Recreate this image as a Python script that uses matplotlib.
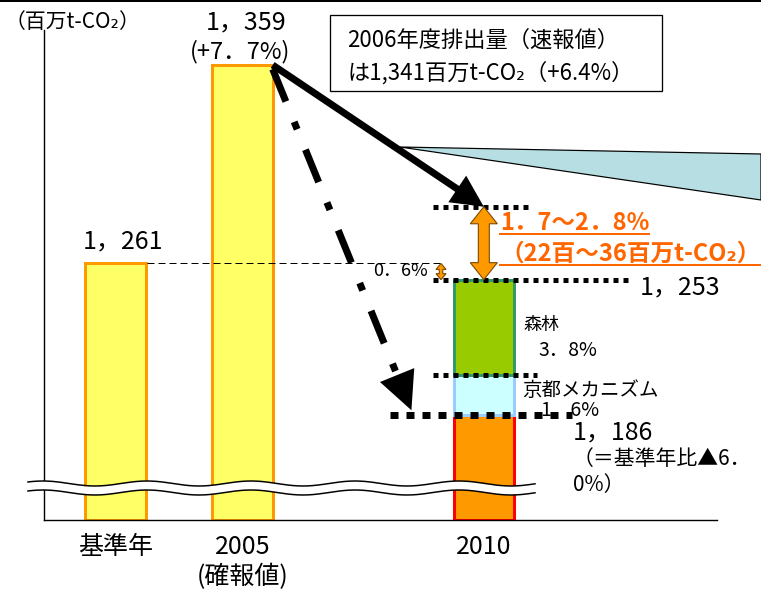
import numpy as np
import matplotlib.pyplot as plt
import matplotlib.transforms as mtransforms
from matplotlib.patches import Polygon, Rectangle
from matplotlib.lines import Line2D

plt.rcParams['font.family'] = ['Noto Sans CJK JP', 'DejaVu Sans']
plt.rcParams['lines.scale_dashes'] = False

# data (百万t-CO2)
categories = ['基準年', '2005\n(確報値)', '2010']
x_pos = [0, 1, 2.9]
emissions = [1261, 1359]          # 基準年, 2005 確報値
target_2010 = 1186                # 基準年比 -6.0%
kyoto_mech = 20                   # 京都メカニズム 1.6%
forest_sink = 47                  # 森林 3.8%
level_2010 = target_2010 + kyoto_mech + forest_sink   # 1,253
gap_upper = 36                    # 2.8% (22~36百万t)

W, H = 761, 590
PT = 0.72   # points per pixel at dpi 100


def fx(x):
    return x / W


def fy(y):
    return 1 - y / H


def jp_num(v):
    return f'{v:,}'.replace(',', '，')


fig = plt.figure(figsize=(W / 100, H / 100), dpi=100)
fig.set_facecolor('white')
ax = fig.add_axes([fx(44), fy(520), fx(717) - fx(44), fy(30) - fy(520)])
ax.set_xlim(-0.563, 4.736)
ax.set_ylim(1134.3, 1376.3)
ax.set_autoscale_on(False)
floor = ax.get_ylim()[0]
bw = 0.475

# bars
ax.bar(x_pos[:2], np.array(emissions) - floor, bottom=floor, width=bw,
       color='#ffff66', edgecolor='#ff9900', linewidth=3 * PT, zorder=2)
ax.bar(x_pos[2], target_2010 - floor, bottom=floor, width=bw,
       color='#ff9900', edgecolor='#ff0000', linewidth=3 * PT, zorder=2)
ax.bar(x_pos[2], kyoto_mech, bottom=target_2010, width=bw,
       color='#ccffff', edgecolor='#99ccff', linewidth=3 * PT, zorder=2)
ax.bar(x_pos[2], forest_sink, bottom=target_2010 + kyoto_mech, width=bw,
       color='#99cc00', edgecolor='#339966', linewidth=3 * PT, zorder=2)

for s in ['top', 'right']:
    ax.spines[s].set_visible(False)
for s in ['left', 'bottom']:
    ax.spines[s].set_linewidth(1.4 * PT)
ax.set_yticks([])
ax.set_xticks(x_pos, categories, fontsize=18)
ax.tick_params(axis='x', length=0, pad=10)

blend = mtransforms.blended_transform_factory(fig.transFigure, ax.transData)
inv = ax.transData.inverted()

# light blue wedge
ax.add_patch(Polygon([(fx(400), fy(147)), (fx(761), fy(154)), (fx(761), fy(200))],
                     closed=True, transform=fig.transFigure, facecolor='#b7dfe3',
                     edgecolor='black', linewidth=1.2 * PT, clip_on=False, zorder=3))

# break marks
xs = np.linspace(28, 535, 300)
upper = 483.5 - 2.5 * np.cos(2 * np.pi * (xs - 147) / 104)
lower = upper + 9
band = np.vstack([np.column_stack([fx(xs), fy(upper)]),
                  np.column_stack([fx(xs[::-1]), fy(lower[::-1])])])
ax.add_patch(Polygon(band, closed=True, transform=fig.transFigure,
                     facecolor='white', linewidth=0, clip_on=False, zorder=5))
for yy in (upper, lower):
    ax.plot(fx(xs), fy(yy), transform=fig.transFigure, color='black',
            lw=1.5 * PT, clip_on=False, zorder=5)


def level_line(v, x0, x1, dot, lw):
    ax.plot([fx(x0), fx(x1)], [v, v], transform=blend, color='black',
            lw=lw * PT, dashes=(dot * PT, dot * PT), dash_capstyle='butt',
            clip_on=False, zorder=6)


level_line(level_2010 + gap_upper, 433, 532, 5, 5)
level_line(level_2010, 433, 632, 5, 5)
level_line(target_2010 + kyoto_mech, 433, 537, 5, 5)
level_line(target_2010, 390, 572, 8, 7)
ax.plot([fx(147), fx(440)], [emissions[0]] * 2, transform=blend, color='black',
        lw=1 * PT, dashes=(7 * PT, 4 * PT), zorder=6, clip_on=False)


def arrow(p0, p1, lw, head_len, head_w, dashes=None):
    a = ax.transData.transform(p0)
    b = ax.transData.transform(p1)
    u = (b - a) / np.hypot(*(b - a))
    n = np.array([-u[1], u[0]])
    base = b - u * head_len
    pts = inv.transform([a, base + u * 2])
    kw = dict(color='black', lw=lw * PT, solid_capstyle='butt',
              dash_capstyle='butt', zorder=7, clip_on=False)
    if dashes is not None:
        kw['dashes'] = [d * PT for d in dashes]
    ax.plot(pts[:, 0], pts[:, 1], **kw)
    head = inv.transform([b, base + n * head_w / 2, base - n * head_w / 2])
    ax.add_patch(Polygon(head, closed=True, facecolor='black', lw=0,
                         zorder=7, clip_on=False))


start = (x_pos[1] + bw / 2, emissions[1])
arrow(start, (x_pos[2], level_2010 + gap_upper), 7, 32, 32)
arrow((start[0], start[1] - 2), (2.33, target_2010 + 2.5), 7, 38, 37,
      dashes=(35, 22, 8, 22))


def double_arrow(x, v0, v1, shaft, head_w, head_len):
    cx, yb = ax.transData.transform((x, v0))
    _, yt = ax.transData.transform((x, v1))
    hw, sw = head_w / 2, shaft / 2
    pts = [(cx, yt), (cx + hw, yt - head_len), (cx + sw, yt - head_len),
           (cx + sw, yb + head_len), (cx + hw, yb + head_len), (cx, yb),
           (cx - hw, yb + head_len), (cx - sw, yb + head_len),
           (cx - sw, yt - head_len), (cx - hw, yt - head_len)]
    ax.add_patch(Polygon(inv.transform(pts), closed=True, facecolor='#ff9900',
                         edgecolor='#7a4a00', lw=0.8, zorder=8, clip_on=False))


double_arrow(x_pos[2], level_2010, level_2010 + gap_upper, 11, 27, 17)
double_arrow(2.563, level_2010, emissions[0], 3.5, 10, 6)

# text box
ax.add_patch(Rectangle((fx(330), fy(91)), fx(662) - fx(330), fy(15) - fy(91),
                       transform=fig.transFigure, facecolor='white',
                       edgecolor='black', lw=1.3 * PT, clip_on=False, zorder=9))
fig.text(fx(347), fy(40), '2006年度排出量（速報値）', fontsize=16, va='center')
fig.text(fx(347), fy(73), 'は1,341百万t-CO₂（+6.4%）', fontsize=16, va='center')

# labels
fig.text(fx(5), fy(22), '（百万t-CO₂）', fontsize=15, va='center')
fig.text(fx(246), fy(22), jp_num(emissions[1]), fontsize=18, ha='center', va='center')
fig.text(fx(240), fy(52), '(+7．7%)', fontsize=17, ha='center', va='center')
fig.text(fx(123), fy(241), jp_num(emissions[0]), fontsize=18, ha='center', va='center')
fig.text(fx(373), fy(271), '0．6%', fontsize=13, va='center')
fig.text(fx(640), fy(287), jp_num(level_2010), fontsize=18, va='center')
fig.text(fx(523), fy(325), '森林', fontsize=13, va='center')
fig.text(fx(538), fy(350), '3．8%', fontsize=14, va='center')
fig.text(fx(522), fy(391), '京都メカニズム', fontsize=14, va='center')
fig.text(fx(540), fy(410), '1．6%', fontsize=14, va='center')
fig.text(fx(573), fy(432), jp_num(target_2010), fontsize=18, va='center')
fig.text(fx(573), fy(459), '（＝基準年比▲6．', fontsize=15, va='center')
fig.text(fx(573), fy(485), '0%）', fontsize=15, va='center')

orange = '#ff6600'
t1 = fig.text(fx(500), fy(223), '1．7～2．8%', fontsize=17, color=orange,
              fontweight='bold', va='center')
t2 = fig.text(fx(500), fy(254), '（22百～36百万t-CO₂）', fontsize=17, color=orange,
              fontweight='bold', va='center')

fig.canvas.draw()
r = fig.canvas.get_renderer()
for t in (t1, t2):
    bb = t.get_window_extent(r)
    fig.add_artist(Line2D([bb.x0 / W, bb.x1 / W], [(bb.y0 + 1) / H] * 2,
                          color=orange, lw=2 * PT))

fig.add_artist(Line2D([0, 1], [fy(1), fy(1)], color='black', lw=2 * PT))

fig.savefig('out.png', dpi=100)
